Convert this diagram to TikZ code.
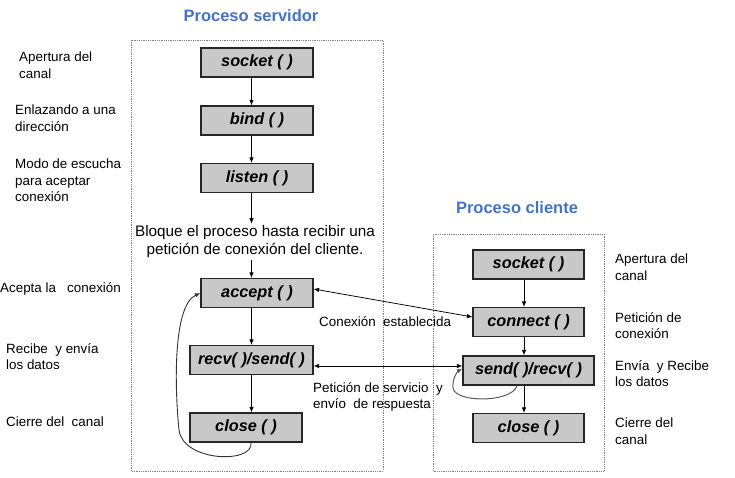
\documentclass[tikz,border=0pt]{standalone}
\usepackage{fontspec}
\setmainfont{Liberation Sans}
\usetikzlibrary{arrows.meta}
\definecolor{boxfill}{HTML}{C8C8C8}
\definecolor{titleblue}{HTML}{4472C4}
\begin{document}
\begin{tikzpicture}[x=1pt,y=-1pt,
  fn/.style={draw=black!85, line width=1.2pt, fill=boxfill, minimum height=29pt,
    font=\fontsize{16.3}{18}\selectfont\bfseries\itshape, inner sep=0pt},
  lbl/.style={font=\fontsize{13.4}{16.5}\selectfont, align=left, anchor=north west, inner sep=0pt},
  ttl/.style={font=\fontsize{16.5}{20}\selectfont\bfseries, text=titleblue, inner sep=0pt},
  arr/.style={-{Latex[length=5.5pt,width=4.5pt]}, line width=0.75pt},
  dbl/.style={{Latex[length=5.5pt,width=4.5pt]}-{Latex[length=5.5pt,width=4.5pt]}, line width=0.75pt},
  frame/.style={draw=gray, densely dotted, line width=0.8pt}
]
\useasboundingbox (0,0) rectangle (735,478);

% frames
\draw[frame] (131,40) rectangle (383,471);
\draw[frame] (433,234) rectangle (604,471);

% titles
\node[ttl] (t1) at (251,16) {Proceso servidor};
\node[ttl] (t2) at (517,208) {Proceso cliente};

% server nodes
\node[fn, minimum width=112pt] (ssock) at (257,62.5) {socket ( )};
\node[fn, minimum width=112pt] (sbind) at (257,120.5) {bind ( )};
\node[fn, minimum width=112pt] (slist) at (257,178) {listen ( )};
\node[font=\fontsize{15.3}{18}\selectfont, align=center, inner sep=0pt] (blk) at (255,242)
  {Bloque el proceso hasta recibir una\\petición de conexión del cliente.};
\node[fn, minimum width=112pt] (sacc) at (257,293) {accept ( )};
\node[fn, minimum width=123pt] (srecv) at (251.5,360) {recv( )/send( )};
\node[fn, minimum width=112pt] (sclose) at (246,427.5) {close ( )};

\coordinate (sx) at (251.5,0);
\draw[arr] (ssock.south -| sx) -- (sbind.north -| sx);
\draw[arr] (sbind.south -| sx) -- (slist.north -| sx);
\draw[arr] (slist.south -| sx) -- ([yshift=2pt]blk.north -| sx);
\draw[arr] ([yshift=-2pt]blk.south -| sx) -- (sacc.north -| sx);
\draw[arr] (sacc.south -| sx) -- (srecv.north -| sx);
\draw[arr] (srecv.south -| sx) -- (sclose.north -| sx);

% server loop
\coordinate (sl1) at (251,442);
\draw[arr, draw=black!80, line width=0.9pt] (sclose.south -| sl1) .. controls (254,464) and (183,462) .. (179,430)
  .. controls (174,380) and (174,305) .. (sacc.west);

% client nodes
\node[fn, minimum width=111pt] (csock) at (528.5,264.5) {socket ( )};
\node[fn, minimum width=111pt] (cconn) at (528.5,322) {connect ( )};
\node[fn, minimum width=131pt] (csend) at (528.5,370.5) {send( )/recv( )};
\node[fn, minimum width=111pt] (cclose) at (528.5,428) {close ( )};

\coordinate (cx) at (524,0);
\draw[arr] (csock.south -| cx) -- (cconn.north -| cx);
\draw[arr] (cconn.south -| cx) -- (csend.north -| cx);
\draw[arr] (csend.south -| cx) -- (cclose.north -| cx);

% client loop
\coordinate (cl1) at (517,0);
\draw[arr, draw=black!65, line width=1pt] (csend.south -| cl1) .. controls (512,403) and (455,403) .. (453,388)
  .. controls (452,378) and (458,371) .. ([yshift=2pt]csend.west);

% connections between processes
\draw[dbl] ([yshift=4pt]sacc.east) -- ([yshift=5pt]cconn.west);
\coordinate (hy) at (0,366);
\draw[dbl] (srecv.east |- hy) -- (csend.west |- hy);

\node[font=\fontsize{13.4}{16}\selectfont, anchor=west, inner sep=0pt] (lconn) at (319,322) {Conexión\ \ establecida};
\node[lbl] (lpet) at (313,382) {Petición de servicio \ y\\envío \ de respuesta};

% left labels
\node[lbl] (la1) at (19,52) {Apertura del\\canal};
\node[lbl] (la2) at (15,105) {Enlazando a una\\dirección};
\node[lbl] (la3) at (15,159) {Modo de escucha\\para aceptar\\conexión};
\node[lbl] (la4) at (0,282) {Acepta la \ \ conexión};
\node[lbl] (la5) at (6,343) {Recibe \ y envía\\los datos};
\node[lbl] (la6) at (6,417) {Cierre del \ canal};

% right labels
\node[lbl] (ra1) at (615,254) {Apertura del\\canal};
\node[lbl] (ra2) at (615,312) {Petición de\\conexión};
\node[lbl] (ra3) at (615,360) {Envía \ y Recibe\\los datos};
\node[lbl] (ra4) at (615,418) {Cierre del\\canal};
\end{tikzpicture}
\end{document}
